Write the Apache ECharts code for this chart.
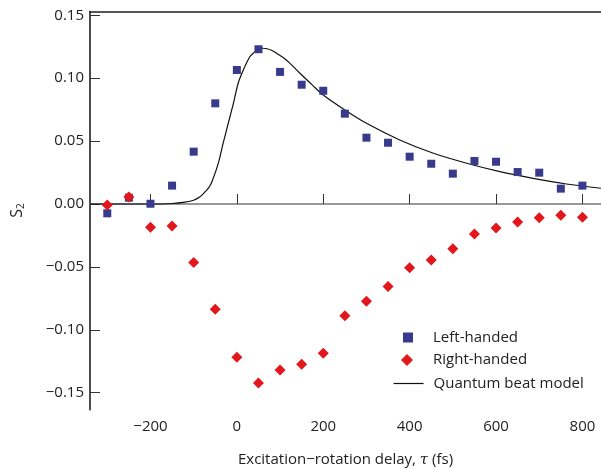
<!DOCTYPE html>
<html>
<head>
<meta charset="utf-8">
<script src="https://cdn.jsdelivr.net/npm/echarts@6/dist/echarts.min.js"></script>
<style>
  html, body { margin: 0; padding: 0; background: #fff; }
  #chart { width: 601px; height: 468px; }
</style>
</head>
<body>
<div id="chart"></div>
<script>
// delay values (fs) shared by both measured series
const delays = [-300, -250, -200, -150, -100, -50, 0, 50, 100, 150, 200, 250, 300, 350, 400, 450, 500, 550, 600, 650, 700, 750, 800];
const leftHanded = [-0.0074, 0.005, 0.0002, 0.0146, 0.0416, 0.080, 0.1065, 0.123, 0.105, 0.0948, 0.090, 0.0718, 0.0527, 0.0487, 0.0376, 0.032, 0.0241, 0.0342, 0.0336, 0.0254, 0.0249, 0.0122, 0.0146];
const rightHanded = [-0.0008, 0.0056, -0.0185, -0.0175, -0.0466, -0.0837, -0.1219, -0.1423, -0.132, -0.1274, -0.1187, -0.0888, -0.0774, -0.0655, -0.0506, -0.0445, -0.0355, -0.0238, -0.019, -0.0143, -0.0109, -0.009, -0.0106];
// quantum beat model curve
const modelX = [-340, -200, -150, -120, -100, -86, -78, -65, -58, -43, -32, -20, -8, 3, 15, 30, 40, 49, 60, 70, 80, 92, 108, 123, 146, 175, 200, 250, 300, 377, 455, 532, 609, 686, 763, 843];
const modelY = [0, 0, 0.0004, 0.0015, 0.003, 0.0055, 0.008, 0.013, 0.0175, 0.0323, 0.048, 0.064, 0.080, 0.096, 0.1065, 0.117, 0.1205, 0.123, 0.1238, 0.1234, 0.1222, 0.1198, 0.1162, 0.1118, 0.1039, 0.0945, 0.0866, 0.0747, 0.0641, 0.0509, 0.0403, 0.0324, 0.0257, 0.0204, 0.0159, 0.0125];
const xTicks = [-200, 0, 200, 400, 600, 800];
const yTicks = [-0.15, -0.10, -0.05, 0, 0.05, 0.10, 0.15];

const font = 'Open Sans';
const minus = (s) => s.replace('-', '\u2212');

function legendFor(name, icon, left, top, w, h, padLeft) {
  return {
    left: left,
    top: top,
    padding: 0,
    itemWidth: w,
    itemHeight: h,
    selectedMode: false,
    textStyle: { fontFamily: font, fontSize: 15, color: '#222', padding: [0, 0, 0, padLeft] },
    data: [icon ? { name: name, icon: icon } : { name: name }]
  };
}

// the model's legend entry: series line icon, its little symbol hidden
const modelLegend = legendFor('Quantum beat model', null, 393, 376, 30, 14, 5);
modelLegend.itemStyle = { opacity: 0 };
modelLegend.lineStyle = { width: 1.2 };

const chart = echarts.init(document.getElementById('chart'));
chart.setOption({
  animation: false,
  textStyle: { fontFamily: font },
  grid: { left: 90, right: 0, top: 11.5, bottom: 58.3, outerBoundsMode: 'none' },
  legend: [
    legendFor('Left-handed', 'rect', 403, 330, 10, 10, 15),
    legendFor('Right-handed', 'diamond', 401, 352.5, 12, 12, 15),
    modelLegend
  ],
  xAxis: [
    {
      type: 'value',
      min: -340,
      max: 843,
      name: 'Excitation\u2212rotation delay, {i|\u03c4} (fs)',
      nameLocation: 'middle',
      nameGap: 43,
      nameTextStyle: {
        fontFamily: font, fontSize: 15, color: '#222',
        rich: { i: { fontFamily: 'DejaVu Serif', fontStyle: 'italic', fontSize: 15, color: '#222' } }
      },
      axisLine: { lineStyle: { color: '#777', width: 1.5 } },
      axisTick: { inside: true, length: 10, customValues: xTicks, lineStyle: { color: '#333' } },
      axisLabel: {
        customValues: xTicks, margin: 10, fontSize: 15, color: '#222',
        formatter: (v) => minus(String(v))
      },
      splitLine: { show: false }
    },
    {
      type: 'value',
      position: 'top',
      min: -340,
      max: 843,
      axisLine: { show: true, onZero: false, lineStyle: { color: '#222', width: 1.5 } },
      axisTick: { show: false },
      axisLabel: { show: false },
      splitLine: { show: false }
    }
  ],
  yAxis: {
    type: 'value',
    min: -0.1635,
    max: 0.153,
    name: '{s|S}{sub|2}',
    nameLocation: 'middle',
    nameGap: 64,
    nameRotate: 90,
    nameTextStyle: {
      rich: {
        s: { fontFamily: font, fontSize: 16, color: '#222' },
        sub: { fontFamily: font, fontSize: 10, color: '#222', padding: [8, 0, 0, 0] }
      }
    },
    axisLine: { show: true, onZero: false, lineStyle: { color: '#111', width: 1.5 } },
    axisTick: { show: true, inside: true, length: 10, customValues: yTicks, lineStyle: { color: '#333' } },
    axisLabel: {
      customValues: yTicks, margin: 6, fontSize: 15, color: '#222',
      formatter: (v) => minus(v.toFixed(2))
    },
    splitLine: { show: false }
  },
  series: [
    {
      name: 'Left-handed',
      type: 'scatter',
      symbol: 'rect',
      symbolSize: 8,
      itemStyle: { color: '#383a8c', opacity: 1 },
      data: delays.map((d, i) => [d, leftHanded[i]]),
      z: 3
    },
    {
      name: 'Right-handed',
      type: 'scatter',
      symbol: 'diamond',
      symbolSize: 11,
      itemStyle: { color: '#e3161b', opacity: 1 },
      data: delays.map((d, i) => [d, rightHanded[i]]),
      z: 4
    },
    {
      name: 'Quantum beat model',
      type: 'line',
      symbol: 'none',
      smooth: 0.3,
      lineStyle: { color: '#111', width: 1.2 },
      itemStyle: { color: '#111' },
      data: modelX.map((x, i) => [x, modelY[i]]),
      z: 2
    }
  ]
});
</script>
</body>
</html>
